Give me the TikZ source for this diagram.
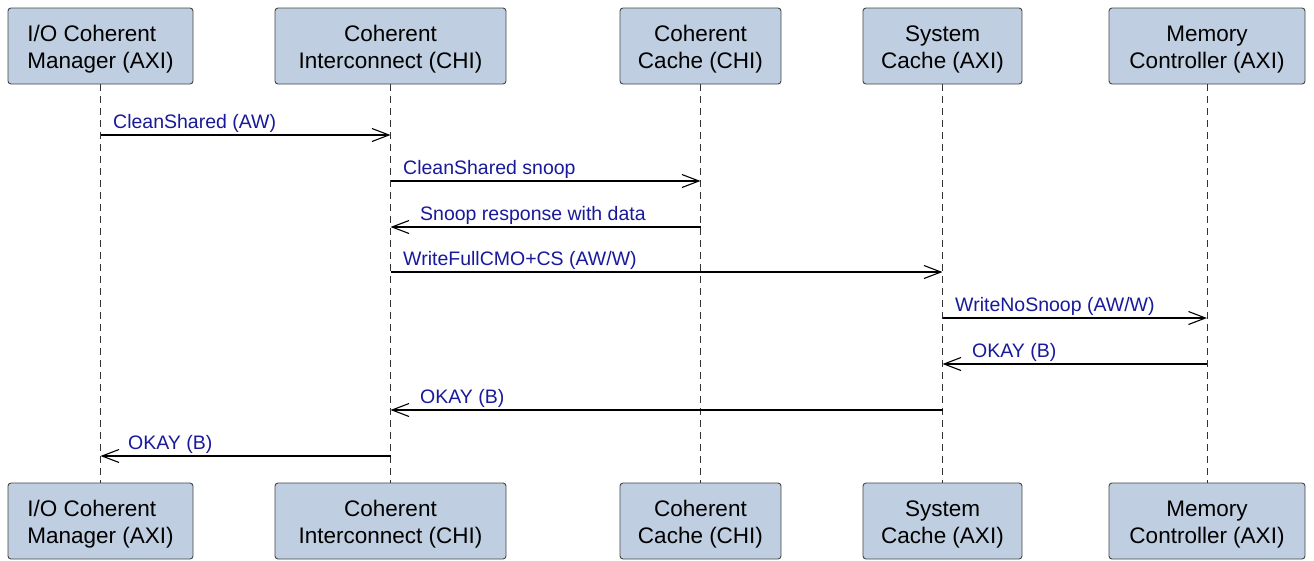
\documentclass[tikz,border=0pt]{standalone}
\usepackage{fontspec}
\setmainfont{Liberation Sans}
\usetikzlibrary{arrows.meta}
\definecolor{boxfill}{RGB}{191,206,224}
\definecolor{boxdraw}{RGB}{70,70,70}
\definecolor{lbl}{RGB}{25,25,155}
\newcommand{\ptext}[3][c]{\raisebox{-4pt}[\height][\depth]{\begin{tabular}{@{}#1@{}}#2\\#3\end{tabular}}}
\begin{document}
\begin{tikzpicture}[x=1pt,y=-1pt,
  part/.style={draw=boxdraw, fill=boxfill, rounded corners=3pt, line width=0.9pt,
    minimum height=76pt, inner sep=0pt,
    font=\fontsize{22.5}{27}\selectfont},
  life/.style={draw=black!80, dash pattern=on 7pt off 5pt, line width=0.8pt},
  msg/.style={-{Straight Barb[length=17pt,width=13pt,line width=1.1pt]}, line width=1.2pt},
  lab/.style={text=lbl, font=\fontsize{19.5}{21}\selectfont, anchor=base west, inner sep=0pt}]
\useasboundingbox (0,0) rectangle (1314,560);
\fill[white] (0,0) rectangle (1314,560);
% top participants
\node[part, minimum width=185pt] (t1) at (100.5,46) {\ptext[l]{I/O Coherent}{Manager (AXI)}};
\node[part, minimum width=231pt] (t2) at (390.5,46) {\ptext{Coherent}{Interconnect (CHI)}};
\node[part, minimum width=161pt] (t3) at (700.5,46) {\ptext{Coherent}{Cache (CHI)}};
\node[part, minimum width=159pt] (t4) at (942.5,46) {\ptext{System}{Cache (AXI)}};
\node[part, minimum width=196pt] (t5) at (1207,46) {\ptext{Memory}{Controller (AXI)}};
% bottom participants
\node[part, minimum width=185pt] (b1) at (100.5,521) {\ptext[l]{I/O Coherent}{Manager (AXI)}};
\node[part, minimum width=231pt] (b2) at (390.5,521) {\ptext{Coherent}{Interconnect (CHI)}};
\node[part, minimum width=161pt] (b3) at (700.5,521) {\ptext{Coherent}{Cache (CHI)}};
\node[part, minimum width=159pt] (b4) at (942.5,521) {\ptext{System}{Cache (AXI)}};
\node[part, minimum width=196pt] (b5) at (1207,521) {\ptext{Memory}{Controller (AXI)}};
% lifelines
\foreach \i in {1,...,5} { \draw[life] (t\i) -- (b\i); }
% messages
\draw[msg] (t1 |- 0,135) -- (t2 |- 0,135);
\node[lab] (l1) at (113,128) {CleanShared (AW)};
\draw[msg] (t2 |- 0,181) -- (t3 |- 0,181);
\node[lab] (l2) at (403,174) {CleanShared snoop};
\draw[msg] (t3 |- 0,227) -- (t2 |- 0,227);
\node[lab] (l3) at (420,220) {Snoop response with data};
\draw[msg] (t2 |- 0,272) -- (t4 |- 0,272);
\node[lab] (l4) at (403,265) {WriteFullCMO+CS (AW/W)};
\draw[msg] (t4 |- 0,318) -- (t5 |- 0,318);
\node[lab] (l5) at (955,311) {WriteNoSnoop (AW/W)};
\draw[msg] (t5 |- 0,364) -- (t4 |- 0,364);
\node[lab] (l6) at (972,357) {OKAY (B)};
\draw[msg] (t4 |- 0,410) -- (t2 |- 0,410);
\node[lab] (l7) at (420,403) {OKAY (B)};
\draw[msg] (t2 |- 0,456) -- (t1 |- 0,456);
\node[lab] (l8) at (128,449) {OKAY (B)};
\end{tikzpicture}
\end{document}
